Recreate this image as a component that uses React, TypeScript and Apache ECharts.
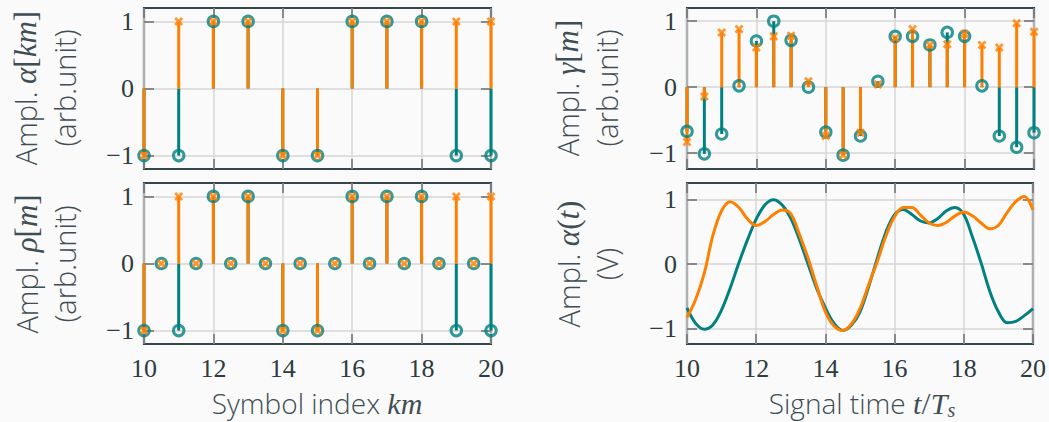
import React, { useEffect, useRef } from "react";
import * as echarts from "echarts";

// ---------- data ----------
const symbolIndex = [10, 11, 12, 13, 14, 15, 16, 17, 18, 19, 20];
const alphaTeal = [-1, -1, 1, 1, -1, -1, 1, 1, 1, -1, -1];
const alphaOrange = [-1, 1, 1, 1, -1, -1, 1, 1, 1, 1, 1];

const halfIndex = [10, 10.5, 11, 11.5, 12, 12.5, 13, 13.5, 14, 14.5, 15, 15.5, 16, 16.5, 17, 17.5, 18, 18.5, 19, 19.5, 20];
const rhoTeal = [-1, 0, -1, 0, 1, 0, 1, 0, -1, 0, -1, 0, 1, 0, 1, 0, 1, 0, -1, 0, -1];
const rhoOrange = [-1, 0, 1, 0, 1, 0, 1, 0, -1, 0, -1, 0, 1, 0, 1, 0, 1, 0, 1, 0, 1];

const gammaTeal = [-0.67, -1.01, -0.71, 0.02, 0.7, 1.0, 0.71, 0.0, -0.68, -1.03, -0.74, 0.09, 0.77, 0.77, 0.64, 0.83, 0.77, 0.02, -0.74, -0.91, -0.69];
const gammaOrange = [-0.83, -0.14, 0.83, 0.88, 0.6, 0.77, 0.78, 0.09, -0.74, -1.03, -0.69, 0.04, 0.74, 0.88, 0.64, 0.65, 0.81, 0.64, 0.6, 0.97, 0.84];

const timeAxis = [10, 10.25, 10.5, 10.75, 11, 11.25, 11.5, 11.75, 12, 12.25, 12.5, 12.75, 13, 13.25, 13.5, 13.75, 14, 14.25, 14.5, 14.75, 15, 15.25, 15.5, 15.75, 16, 16.25, 16.5, 16.75, 17, 17.25, 17.5, 17.75, 18, 18.25, 18.5, 18.75, 19, 19.25, 19.5, 19.75, 20];
const tealCurve = [-0.68, -0.92, -1.01, -0.94, -0.71, -0.37, 0.02, 0.38, 0.7, 0.92, 1.0, 0.92, 0.71, 0.38, 0.0, -0.38, -0.68, -0.92, -1.03, -0.95, -0.74, -0.35, 0.09, 0.5, 0.77, 0.85, 0.77, 0.67, 0.64, 0.71, 0.83, 0.88, 0.77, 0.42, 0.02, -0.42, -0.74, -0.91, -0.89, -0.8, -0.69];
const orangeCurve = [-0.83, -0.55, -0.14, 0.45, 0.83, 0.97, 0.88, 0.7, 0.6, 0.66, 0.77, 0.84, 0.78, 0.46, 0.09, -0.34, -0.74, -0.96, -1.03, -0.93, -0.69, -0.32, 0.04, 0.44, 0.74, 0.88, 0.88, 0.76, 0.64, 0.6, 0.65, 0.75, 0.81, 0.75, 0.64, 0.55, 0.6, 0.8, 0.97, 1.05, 0.84];

const yTickValues = [-1, 0, 1];

// ---------- style ----------
const TEAL = "#008080";
const ORANGE = "#ff8000";
const BG = "#fafafa";
const BORDER = "#34454b";
const GRIDC = "#d6d6d6";
const TICKC = "#6e6e6e";
const TICK_TEXT = "#2f3b40";
const LABEL_COLOR = "#3f4d54";
const NUM_FONT = "'Liberation Serif', 'DejaVu Serif', serif";
const LABEL_FONT = "'Open Sans', 'Noto Sans', sans-serif";
const MATH_FONT = "'Liberation Serif', 'DejaVu Serif', serif";

const X_MARK = "path://M0,2.2 L2.2,0 L5,2.8 L7.8,0 L10,2.2 L7.2,5 L10,7.8 L7.8,10 L5,7.2 L2.2,10 L0,7.8 L2.8,5 Z";

const pairs = (xs: number[], ys: number[]) => xs.map((x, i) => [x, ys[i]]);

const gridRects = [
  { left: 144, top: 8, width: 347, height: 161 },
  { left: 144, top: 183, width: 347, height: 161 },
  { left: 687, top: 8, width: 347, height: 161 },
  { left: 687, top: 183, width: 347, height: 161 },
];
const yRanges = [
  [-1.2, 1.2],
  [-1.2, 1.2],
  [-1.24, 1.2],
  [-1.24, 1.26],
];

function buildOption() {
  const tickStyle = { color: TICKC, width: 1.5 };
  const grid = gridRects.map((g) => ({
    ...g,
    show: true,
    borderColor: BORDER,
    borderWidth: 2.2,
    backgroundColor: "transparent",
    containLabel: false,
  }));
  const xAxis: any[] = [];
  const yAxis: any[] = [];
  gridRects.forEach((_, i) => {
    const showX = i === 1 || i === 3;
    xAxis.push({
      type: "value",
      gridIndex: i,
      min: 10,
      max: 20,
      interval: 2,
      position: "bottom",
      axisLine: { show: false, onZero: false },
      axisTick: { show: true, inside: true, length: 10, lineStyle: tickStyle },
      axisLabel: {
        show: showX,
        margin: 11,
        fontFamily: NUM_FONT,
        fontSize: 26,
        color: TICK_TEXT,
      },
      splitLine: { show: true, lineStyle: { color: GRIDC, width: 1.5 } },
    });
    xAxis.push({
      type: "value",
      gridIndex: i,
      min: 10,
      max: 20,
      interval: 2,
      position: "top",
      axisLine: { show: false, onZero: false },
      axisTick: { show: true, inside: true, length: 10, lineStyle: tickStyle },
      axisLabel: { show: false },
      splitLine: { show: false },
    });
    yAxis.push({
      type: "value",
      gridIndex: i,
      min: yRanges[i][0],
      max: yRanges[i][1],
      position: "left",
      axisLine: { show: false, onZero: false },
      axisTick: { show: true, inside: true, length: 10, lineStyle: tickStyle, customValues: yTickValues },
      axisLabel: {
        show: true,
        customValues: yTickValues,
        margin: 10,
        fontFamily: NUM_FONT,
        fontSize: 26,
        color: TICK_TEXT,
        formatter: (v: number) => (v < 0 ? "\u2212" + Math.abs(v) : String(v)),
      },
      splitLine: { show: true, lineStyle: { color: GRIDC, width: 1.5 } },
    });
    yAxis.push({
      type: "value",
      gridIndex: i,
      min: yRanges[i][0],
      max: yRanges[i][1],
      position: "right",
      axisLine: { show: false, onZero: false },
      axisTick: { show: true, inside: true, length: 10, lineStyle: tickStyle, customValues: yTickValues },
      axisLabel: { show: false, customValues: yTickValues },
      splitLine: { show: false },
    });
  });

  const stemPanel = (i: number, xs: number[], teal: number[], orange: number[]) => {
    const ax = { xAxisIndex: 2 * i, yAxisIndex: 2 * i };
    return [
      {
        type: "bar",
        ...ax,
        data: pairs(xs, teal),
        barWidth: 3,
        barGap: "-100%",
        itemStyle: { color: TEAL },
        silent: true,
      },
      {
        type: "scatter",
        ...ax,
        data: pairs(xs, teal),
        symbol: "circle",
        symbolSize: 10.5,
        clip: false,
        itemStyle: { color: "rgba(0,0,0,0)", borderColor: TEAL, borderWidth: 3 },
        silent: true,
      },
      {
        type: "bar",
        ...ax,
        data: pairs(xs, orange),
        barWidth: 3,
        barGap: "-100%",
        itemStyle: { color: ORANGE },
        silent: true,
      },
      {
        type: "scatter",
        ...ax,
        data: pairs(xs, orange),
        symbol: X_MARK,
        symbolSize: 9,
        clip: false,
        itemStyle: { color: ORANGE },
        silent: true,
      },
    ];
  };

  const series: any[] = [
    ...stemPanel(0, symbolIndex, alphaTeal, alphaOrange),
    ...stemPanel(1, halfIndex, rhoTeal, rhoOrange),
    ...stemPanel(2, halfIndex, gammaTeal, gammaOrange),
    {
      type: "line",
      xAxisIndex: 6,
      yAxisIndex: 6,
      data: pairs(timeAxis, tealCurve),
      smooth: 0.35,
      showSymbol: false,
      symbol: "none",
      lineStyle: { color: TEAL, width: 3 },
      itemStyle: { color: TEAL },
      silent: true,
    },
    {
      type: "line",
      xAxisIndex: 6,
      yAxisIndex: 6,
      data: pairs(timeAxis, orangeCurve),
      smooth: 0.35,
      showSymbol: false,
      symbol: "none",
      lineStyle: { color: ORANGE, width: 3 },
      itemStyle: { color: ORANGE },
      silent: true,
    },
  ];

  const mkRich = (size: number, lh: number) => ({
    m: { fontFamily: MATH_FONT, fontStyle: "italic", fontWeight: "normal", fontSize: size, fill: LABEL_COLOR, lineHeight: lh },
    r: { fontFamily: MATH_FONT, fontWeight: "normal", fontSize: size, fill: LABEL_COLOR, lineHeight: lh },
    s: { fontFamily: MATH_FONT, fontStyle: "italic", fontWeight: "normal", fontSize: Math.round(size * 0.68), fill: LABEL_COLOR, verticalAlign: "bottom", lineHeight: lh },
  });
  const txt = (x: number, y: number, text: string, rotate: boolean, size: number, mathSize: number) => ({
    type: "text",
    x,
    y,
    rotation: rotate ? Math.PI / 2 : 0,
    silent: true,
    style: {
      text,
      rich: mkRich(mathSize, 34),
      fontFamily: LABEL_FONT,
      fontSize: size,
      fontWeight: 300,
      lineHeight: 34,
      fill: LABEL_COLOR,
      align: "center",
      verticalAlign: "middle",
    },
  });

  const graphic = [
    txt(25, 88, "Ampl. {m|\u03b1}{r|[}{m|km}{r|]}", true, 29, 31),
    txt(64, 88, "(arb.unit)", true, 29, 31),
    txt(26, 264, "Ampl. {m|\u03c1}{r|[}{m|m}{r|]}", true, 29, 31),
    txt(64, 264, "(arb.unit)", true, 29, 31),
    txt(567, 88, "Ampl. {m|\u03b3}{r|[}{m|m}{r|]}", true, 29, 31),
    txt(606, 88, "(arb.unit)", true, 29, 31),
    txt(568, 264, "Ampl. {m|\u03b1}{r|(}{m|t}{r|)}", true, 29, 31),
    txt(606, 264, "(V)", true, 29, 31),
    txt(317, 403, "Symbol index {m|km}", false, 28, 30),
    txt(862, 403, "Signal time {m|t}/{m|T}{s|s}", false, 28, 30),
  ];

  return {
    animation: false,
    backgroundColor: BG,
    grid,
    xAxis,
    yAxis,
    series,
    graphic,
  };
}

export default function App() {
  const ref = useRef<HTMLDivElement>(null);
  useEffect(() => {
    if (!ref.current) return;
    const chart = echarts.init(ref.current, undefined, { renderer: "svg" });
    chart.setOption(buildOption() as any);
    return () => chart.dispose();
  }, []);
  return (
    <div
      ref={ref}
      style={{ position: "absolute", left: 0, top: 0, width: 1049, height: 422, background: BG }}
    />
  );
}
